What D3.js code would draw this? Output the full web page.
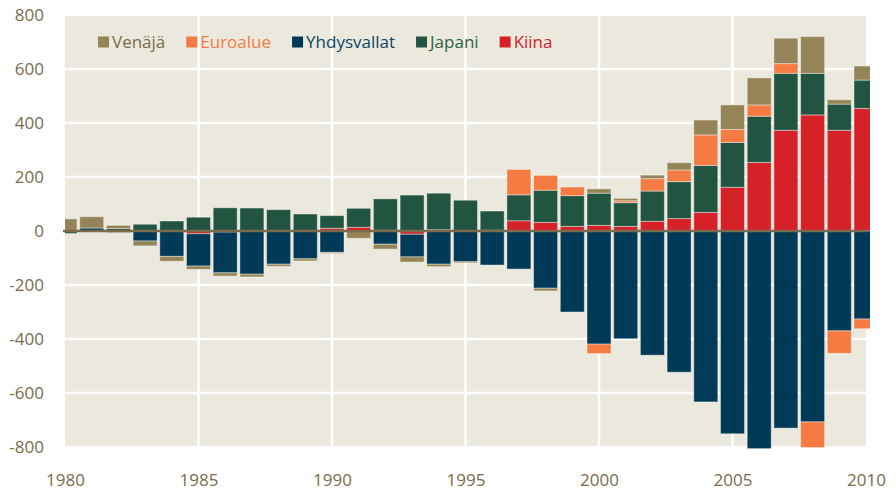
<!DOCTYPE html>
<html>
<head>
<meta charset="utf-8">
<script src="https://cdn.jsdelivr.net/npm/d3@7"></script>
<style>
  body { margin: 0; background: #fff; }
  svg { display: block; font-family: "Open Sans", sans-serif; }
</style>
</head>
<body>
<svg id="chart" width="896" height="490"></svg>
<script>
// years on the x axis
var years = d3.range(1980, 2011);

// series, in stacking order (from the zero line outwards)
var seriesNames = ["Kiina", "Yhdysvallat", "Japani", "Euroalue", "Venäjä"];
// legend order as in the picture
var legendOrder = ["Venäjä", "Euroalue", "Yhdysvallat", "Japani", "Kiina"];

var kiina = [0, 0, 0, 0, 0, -10, -4, 0, 0, 0, 10, 14, 3, -12, 5, 0, 3, 38, 32, 17,
  21, 17, 36, 46, 69, 162, 254, 373, 430, 373, 454];
var yhdysvallat = [0, 11, -5, -37, -94, -120, -151, -160, -123, -103, -79, 0, -49, -84, -123, -114,
  -126, -141, -212, -300, -419, -399, -460, -523, -633, -751, -806, -730, -707, -370, -326];
var japani = [-9, 0, 9, 25, 37, 51, 86, 85, 79, 63, 47, 70, 116, 133, 135, 114, 71, 96, 119, 114,
  119, 88, 112, 137, 174, 166, 171, 211, 154, 97, 105];
var euroalue = [0, 0, 0, 0, 0, 0, 0, 0, 0, 0, 0, 0, 0, 0, 0, 0, 0, 94, 55, 32,
  -35, 7, 46, 43, 113, 48, 42, 36, -95, -83, -36];
var venaja = [45, 42, 12, -18, -18, -12, -12, -10, -8, -8, -4, -27, -18, -19, -9, -4, 0, 0, -10, 0,
  16, 9, 13, 27, 55, 91, 100, 94, 136, 16, 52];

var yTicks = [800, 600, 400, 200, 0, -200, -400, -600, -800];
var xTicks = [1980, 1985, 1990, 1995, 2000, 2005, 2010];

var colors = {
  "Venäjä": "#958457",
  "Euroalue": "#f47c43",
  "Yhdysvallat": "#003a56",
  "Japani": "#225541",
  "Kiina": "#d72128"
};
var textColors = {
  "Venäjä": "#7b6b4c",
  "Euroalue": "#f47c43",
  "Yhdysvallat": "#0d4564",
  "Japani": "#2c6149",
  "Kiina": "#d72128"
};
var axisColor = "#7b6b4c";

var table = years.map(function (yr, i) {
  return {
    year: yr,
    "Kiina": kiina[i],
    "Yhdysvallat": yhdysvallat[i],
    "Japani": japani[i],
    "Euroalue": euroalue[i],
    "Venäjä": venaja[i]
  };
});

var svg = d3.select("#chart");
var plot = { left: 65, right: 866, top: 16, bottom: 446 };

var x = d3.scaleLinear().domain([1980, 2010]).range([plot.left, plot.right]);
var y = d3.scaleLinear().domain([-800, 800]).range([447, 15]);
var barWidth = 24;

// background
svg.append("rect")
  .attr("x", plot.left).attr("y", plot.top)
  .attr("width", plot.right - plot.left).attr("height", plot.bottom - plot.top)
  .attr("fill", "#ebe9de");

// grid
svg.append("g")
  .selectAll("line")
  .data(yTicks.filter(function (d) { return d !== 0 && Math.abs(d) !== 800; }))
  .join("line")
  .attr("x1", plot.left).attr("x2", plot.right)
  .attr("y1", function (d) { return y(d); }).attr("y2", function (d) { return y(d); })
  .attr("stroke", "#fff").attr("stroke-width", 2.5);

svg.append("g")
  .selectAll("line")
  .data(xTicks.slice(1, -1))
  .join("line")
  .attr("x1", function (d) { return x(d); }).attr("x2", function (d) { return x(d); })
  .attr("y1", plot.top).attr("y2", plot.bottom)
  .attr("stroke", "#fff").attr("stroke-width", 2.5);

// stacked bars
svg.append("clipPath").attr("id", "clip")
  .append("rect").attr("x", plot.left).attr("y", 0).attr("width", 870 - plot.left).attr("height", 490);

var stack = d3.stack().keys(seriesNames).offset(d3.stackOffsetDiverging);
var layers = stack(table);

svg.append("g")
  .attr("clip-path", "url(#clip)")
  .selectAll("g")
  .data(layers)
  .join("g")
  .attr("fill", function (d) { return colors[d.key]; })
  .selectAll("rect")
  .data(function (d) { return d.filter(function (p) { return p[1] !== p[0]; }); })
  .join("rect")
  .attr("x", function (d) { return x(d.data.year) - barWidth / 2; })
  .attr("width", barWidth)
  .attr("y", function (d) { return y(Math.max(d[0], d[1])); })
  .attr("height", function (d) { return Math.abs(y(d[0]) - y(d[1])); })
  .attr("stroke", "#fff")
  .attr("stroke-opacity", 0.4)
  .attr("stroke-width", 1);

// zero line
svg.append("line")
  .attr("x1", plot.left - 2).attr("x2", plot.right + 1)
  .attr("y1", y(0)).attr("y2", y(0))
  .attr("stroke", axisColor).attr("stroke-width", 2.5);

// y axis labels (plain hyphen for negatives, as in the original)
var yAxis = d3.axisLeft(y).tickValues(yTicks).tickSize(0).tickPadding(0)
  .tickFormat(function (d) { return String(d); });
var gy = svg.append("g").attr("transform", "translate(44,0)").call(yAxis);
gy.select(".domain").remove();
gy.selectAll("text")
  .attr("fill", axisColor)
  .style("font-size", "17px")
  .style("font-family", "'Open Sans', sans-serif");

// x axis labels
var xAxis = d3.axisBottom(x).tickValues(xTicks).tickFormat(d3.format("d")).tickSize(0).tickPadding(0);
var gx = svg.append("g").attr("transform", "translate(0,474)").call(xAxis);
gx.select(".domain").remove();
gx.selectAll("text")
  .attr("fill", axisColor)
  .style("font-size", "17px")
  .style("font-family", "'Open Sans', sans-serif");

// legend
var lx = 98;
legendOrder.forEach(function (name) {
  var g = svg.append("g");
  g.append("rect")
    .attr("x", lx).attr("y", 36.5).attr("width", 11).attr("height", 11)
    .attr("fill", colors[name]);
  var t = g.append("text")
    .attr("x", lx + 14).attr("y", 47.5)
    .attr("fill", textColors[name])
    .style("font-size", "17px")
    .text(name);
  lx += 14 + t.node().getComputedTextLength() + 21;
});
</script>
</body>
</html>
